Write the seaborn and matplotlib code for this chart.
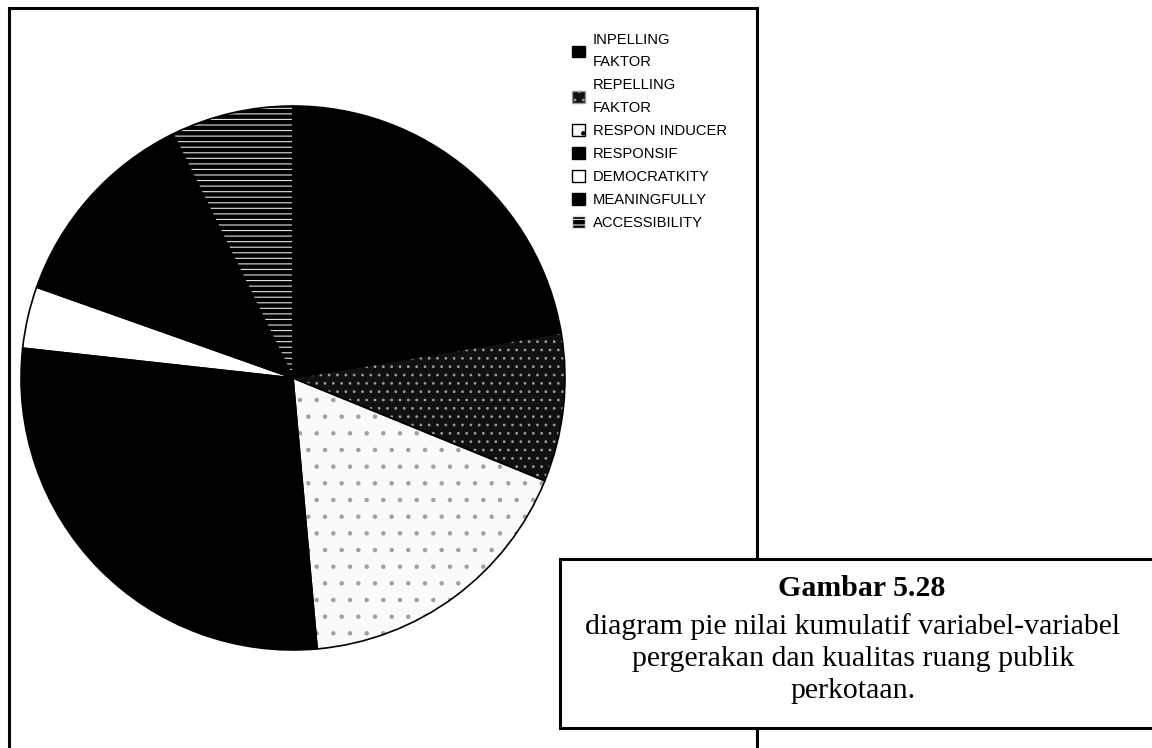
import matplotlib
matplotlib.use("Agg")
import matplotlib.pyplot as plt
from matplotlib.patches import Rectangle
import seaborn as sns

# Cumulative scores of each variable (one wedge per variable)
labels = [
    "INPELLING\nFAKTOR",
    "REPELLING\nFAKTOR",
    "RESPON INDUCER",
    "RESPONSIF",
    "DEMOCRATKITY",
    "MEANINGFULLY",
    "ACCESSIBILITY",
]
values = [80.4, 31.8, 62.7, 101.4, 13.2, 44.3, 26.2]

caption_title = "Gambar 5.28"
caption_body = ("diagram pie nilai kumulatif variabel-variabel\n"
                "pergerakan dan kualitas ruang publik\n"
                "perkotaan.")

# Fill, hatch texture and hatch colour per wedge
face_colors = ["#000000", "#111111", "#fafafa", "#000000", "#ffffff", "#000000", "#000000"]
hatches = [None, "..", ".", None, None, None, "---"]
hatch_colors = ["#000000", "#9a9a9a", "#a0a0a0", "#000000", "#000000", "#000000", "#e0e0e0"]

sns.set_theme(style="white")
plt.rcParams["font.family"] = ["Liberation Sans", "DejaVu Sans"]
plt.rcParams["hatch.linewidth"] = 0.8
plt.rcParams["text.color"] = "black"

W, H = 1152, 748
fig = plt.figure(figsize=(W / 100, H / 100), dpi=100)
fig.patch.set_facecolor("white")


def fx(px):
    return px / W


def fy(py):
    return 1 - py / H


# Outer chart frame (runs past the bottom edge)
fig.add_artist(Rectangle((fx(9), fy(765)), fx(757) - fx(9), fy(8) - fy(765),
                         transform=fig.transFigure, fill=False,
                         edgecolor="black", linewidth=2.2, zorder=1))

# Pie axes: centre (293, 378) px, radius 272 px
cx, cy, r = 293, 378, 272
ax = fig.add_axes([fx(cx - r), fy(cy + r), 2 * r / W, 2 * r / H])

# Textured fill (hatch colour follows the edge colour, so edges are hidden here)
wedges, _ = ax.pie(values, startangle=90, counterclock=False, radius=1,
                   colors=face_colors,
                   wedgeprops=dict(linewidth=0))
for w, h, hc in zip(wedges, hatches, hatch_colors):
    w.set_edgecolor(hc)
    if h:
        w.set_hatch(h)
    w.set_linewidth(0)

# Black outlines on top
outlines, _ = ax.pie(values, startangle=90, counterclock=False, radius=1,
                     colors=["none"] * len(values),
                     wedgeprops=dict(edgecolor="black", linewidth=1.2, fill=False))
ax.set_xlim(-1.0, 1.0)
ax.set_ylim(-1.0, 1.0)
ax.set_aspect("auto")
ax.axis("off")

# Legend squares reuse the filled wedges
leg = ax.legend(wedges, labels, loc="upper left",
                bbox_to_anchor=(fx(572), fy(33)), bbox_transform=fig.transFigure,
                frameon=False, fontsize=10.6, borderpad=0, borderaxespad=0,
                handlelength=0.85, handleheight=0.85, handletextpad=0.55,
                labelspacing=0.62)
for t in leg.get_texts():
    t.set_linespacing(1.75)
    t.set_color("black")
for p in leg.get_patches():
    p.set_linewidth(1.0)
    if p.get_facecolor()[0] > 0.5:
        p.set_edgecolor("black")

# Caption box over the lower right corner of the frame
fig.add_artist(Rectangle((fx(560), fy(728)), fx(1170) - fx(560), fy(559) - fy(728),
                         transform=fig.transFigure, facecolor="white",
                         edgecolor="black", linewidth=2.2, zorder=5))
fig.text(fx(862), fy(588), caption_title, ha="center", va="center",
         fontsize=21.5, fontweight="bold", family="Liberation Serif",
         color="black", zorder=6)
fig.text(fx(853), fy(659), caption_body, ha="center", va="center",
         multialignment="center", fontsize=21.5, family="Liberation Serif",
         color="black", linespacing=1.3, zorder=6)

fig.savefig("out.png", dpi=100, facecolor="white")
